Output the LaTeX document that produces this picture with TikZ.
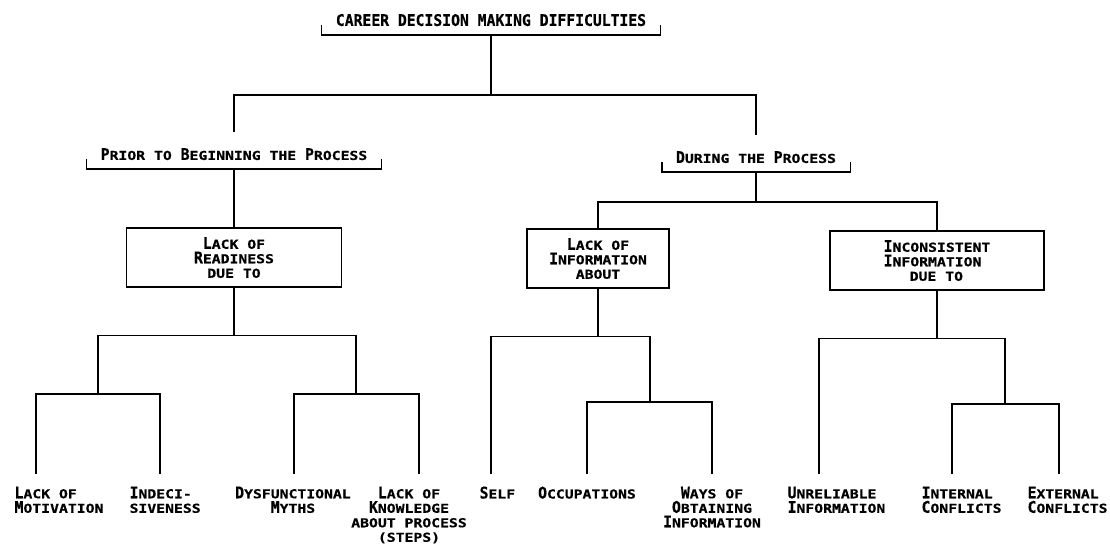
\documentclass[tikz,border=0pt]{standalone}
\usepackage{fontspec}
\newfontfamily\capfont[UprightFont={* Bold},FakeStretch=0.92,FakeBold=0.6]{DejaVu Sans Mono}
\newfontfamily\scfont[UprightFont={* Bold},FakeStretch=1.2,FakeBold=0.6]{DejaVu Sans Mono}
\newcommand\lo[1]{{\scfont\fontsize{12.3}{14.5}\selectfont #1}}

\tikzset{
    every node/.style={font=\capfont\fontsize{16}{14.5}\selectfont, inner sep=0pt},
    brlabel/.style={anchor=south, inner ysep=8.5pt, text depth=0pt},
    catbox/.style={draw, minimum height=59pt, align=center},
    leaf/.style={anchor=north west, align=left},
    leafc/.style={anchor=north, align=center},
}

\begin{document}
\begin{tikzpicture}[x=1pt, y=-1pt, line width=1.2pt]
    \useasboundingbox (0, 0) rectangle (1110, 544);

    % headings with brackets
    \node[brlabel, minimum width=338pt] (title) at (491, 35) {CAREER DECISION MAKING DIFFICULTIES};
    \node[brlabel, minimum width=294pt] (prior) at (234, 169) {P\lo{RIOR TO }B\lo{EGINNING THE }P\lo{ROCESS}};
    \node[brlabel, minimum width=187pt] (during) at (756, 172) {D\lo{URING THE }P\lo{ROCESS}};

    \draw ([yshift=10pt]title.south west) -- (title.south west) -- (title.south east) -- ([yshift=10pt]title.south east);
    \draw ([yshift=10pt]prior.south west) -- (prior.south west) -- (prior.south east) -- ([yshift=10pt]prior.south east);
    \draw ([yshift=10pt]during.south west) -- (during.south west) -- (during.south east) -- ([yshift=10pt]during.south east);

    % boxes
    \node[catbox, minimum width=215pt] (ready) at (234, 257.5) {L\lo{ACK OF}\\R\lo{EADINESS}\\\lo{DUE TO}};
    \node[catbox, minimum width=142pt] (info) at (598, 258.5) {L\lo{ACK OF}\\I\lo{NFORMATION}\\\lo{ABOUT}};
    \node[catbox, minimum width=214pt, align=left] (incons) at (937, 260.5) {I\lo{NCONSISTENT}\\I\lo{NFORMATION}\\\hspace*{26pt}\lo{DUE TO}};

    % ends of the leaf lines
    \coordinate (mot) at (36, 474);
    \coordinate (ind) at (160, 474);
    \coordinate (dys) at (294, 474);
    \coordinate (kno) at (419, 474);
    \coordinate (slf) at (491, 474);
    \coordinate (occ) at (587, 474);
    \coordinate (way) at (712, 474);
    \coordinate (unr) at (819, 474);
    \coordinate (int) at (952, 474);
    \coordinate (ext) at (1059, 474);

    \coordinate (j1) at (98, 394);
    \coordinate (j2) at (356, 394);
    \coordinate (j3) at (650, 402);
    \coordinate (j4) at (1005, 404);

    % tree lines
    \draw[shorten >=7pt] (title.south) -- ++(0, 60) -| (prior.north);
    \draw[shorten >=7pt] (title.south) -- ++(0, 60) -| (during.north);

    \draw (prior.south) -- (ready.north);
    \draw (during.south) -- ++(0, 30) -| (info.north);
    \draw (during.south) -- ++(0, 30) -| (incons.north);

    \draw (ready.south) -- ++(0, 48) -| (j1);
    \draw (ready.south) -- ++(0, 48) -| (j2);
    \draw (j1) -| (mot);
    \draw (j1) -| (ind);
    \draw (j2) -| (dys);
    \draw (j2) -| (kno);

    \draw (info.south) -- ++(0, 48) -| (slf);
    \draw (info.south) -- ++(0, 48) -| (j3);
    \draw (j3) -| (occ);
    \draw (j3) -| (way);

    \draw (incons.south) -- ++(0, 48) -| (unr);
    \draw (incons.south) -- ++(0, 48) -| (j4);
    \draw (j4) -| (int);
    \draw (j4) -| (ext);

    % leaf labels
    \node[leaf] (motL) at (14, 486) {L\lo{ACK OF}\\M\lo{OTIVATION}};
    \node[leaf] (indL) at (129, 486) {I\lo{NDECI-}\\\lo{SIVENESS}};
    \node[leafc] (dysL) at (293, 486) {D\lo{YSFUNCTIONAL}\\M\lo{YTHS}};
    \node[leafc] (knoL) at (409, 486) {L\lo{ACK OF}\\K\lo{NOWLEDGE}\\\lo{ABOUT PROCESS}\\\lo{(STEPS)}};
    \node[leaf] (slfL) at (479, 486) {S\lo{ELF}};
    \node[leafc] (occL) at (587, 486) {O\lo{CCUPATIONS}};
    \node[leafc] (wayL) at (712, 486) {W\lo{AYS OF}\\O\lo{BTAINING}\\I\lo{NFORMATION}};
    \node[leaf] (unrL) at (787, 486) {U\lo{NRELIABLE}\\I\lo{NFORMATION}};
    \node[leaf] (intL) at (921, 486) {I\lo{NTERNAL}\\C\lo{ONFLICTS}};
    \node[leaf] (extL) at (1027, 486) {E\lo{XTERNAL}\\C\lo{ONFLICTS}};
\end{tikzpicture}
\end{document}
